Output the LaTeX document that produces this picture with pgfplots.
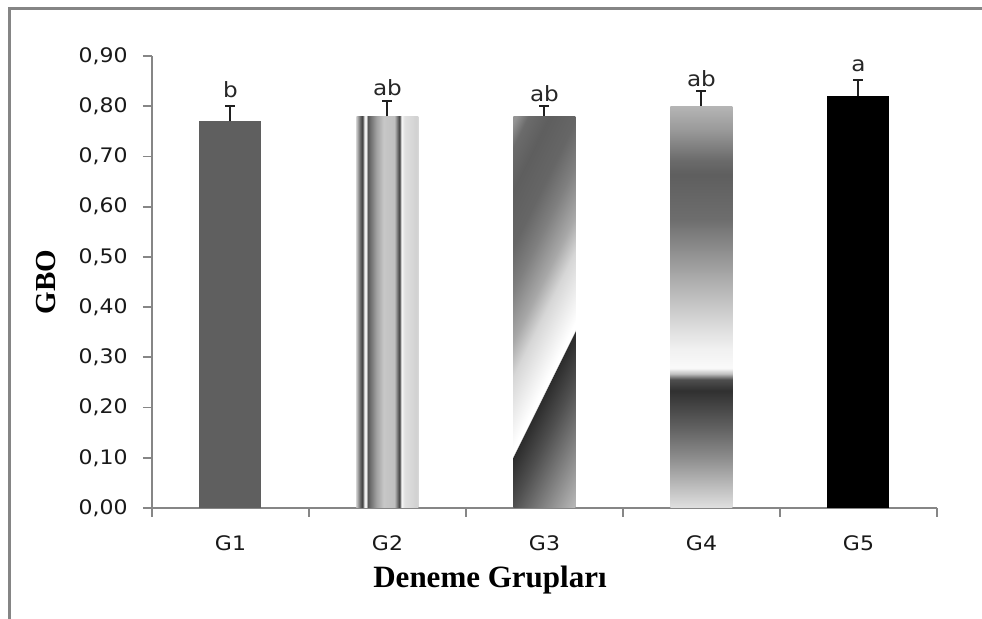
\documentclass[border=0pt]{standalone}
\usepackage{pgfplots}
\pgfplotsset{compat=1.18}
\usepackage{pgfplotstable}
\usepackage{fontspec}
\setmainfont{DejaVu Sans}[FakeStretch=1.1]
\newfontfamily\labfont{Liberation Serif}
\definecolor{axgray}{HTML}{868686}
\definecolor{framegray}{HTML}{858585}
\definecolor{gone}{HTML}{5F5F5F}
\definecolor{errc}{HTML}{202020}

\pgfdeclarehorizontalshading{gtwo}{100bp}{%
 color(0bp)=(black!22); color(25bp)=(black!22); color(28.2bp)=(black!62);
 color(29.8bp)=(black!75); color(31.5bp)=(black!6); color(33.1bp)=(black!6);
 color(33.9bp)=(black!67); color(36.3bp)=(black!56); color(41.1bp)=(black!37);
 color(46.8bp)=(black!22); color(55.6bp)=(black!25); color(58.1bp)=(black!56);
 color(59.7bp)=(black!75); color(61.3bp)=(black!3); color(63.7bp)=(black!12);
 color(73.4bp)=(black!18); color(75bp)=(black!15); color(100bp)=(black!15)}

\pgfdeclareverticalshading{gthree}{100bp}{%
 color(0bp)=(black!29); color(17bp)=(black!29); color(33bp)=(black!69);
 color(39.35bp)=(black!83); color(39.55bp)=(black!0); color(40.5bp)=(black!0);
 color(49.8bp)=(black!16); color(54.4bp)=(black!34); color(61bp)=(black!50);
 color(66.8bp)=(black!60); color(74bp)=(black!63); color(79.7bp)=(black!58);
 color(82.9bp)=(black!42); color(100bp)=(black!42)}

\pgfdeclareverticalshading{gfour}{100bp}{%
 color(0bp)=(black!12); color(25bp)=(black!12); color(31.5bp)=(black!46);
 color(35bp)=(black!62); color(39.6bp)=(black!81); color(41bp)=(black!69);
 color(41.7bp)=(black!25); color(42.4bp)=(black!2); color(45bp)=(black!6);
 color(53bp)=(black!31); color(60.9bp)=(black!57); color(66.5bp)=(black!63);
 color(68.3bp)=(black!58); color(72bp)=(black!40); color(75bp)=(black!29);
 color(100bp)=(black!29)}

\pgfplotstableread{
x ypos lab
1 0.818 b
2 0.822 ab
3 0.809 ab
4 0.839 ab
5 0.870 a
}\lettertable

\begin{document}
\begin{tikzpicture}
\useasboundingbox (0,0) rectangle (491pt,309.5pt);
\draw[framegray, line width=1.25pt] (4.75pt,0) -- (4.75pt,305.15pt) -- (491pt,305.15pt);
\begin{axis}[
  at={(76pt,55.5pt)}, anchor=south west,
  scale only axis, width=392.5pt, height=226pt,
  xmin=0.5, xmax=5.5, ymin=0, ymax=0.9,
  axis x line*=bottom, axis y line*=left,
  axis line style={draw=axgray, line width=0.9pt},
  tick style={draw=axgray, line width=0.9pt},
  tick align=outside, major tick length=4.5pt,
  xtick={0.5,1.5,2.5,3.5,4.5,5.5},
  x tick label as interval,
  xticklabels={G1,G2,G3,G4,G5},
  ytick={0,0.1,0.2,0.3,0.4,0.5,0.6,0.7,0.8,0.9},
  /pgf/number format/.cd, fixed, fixed zerofill, precision=2, use comma, assume math mode=true,
  /pgfplots/.cd,
  tick label style={font=\fontsize{10}{12}\selectfont, text=black!90},
  yticklabel style={anchor=east, inner sep=0pt, xshift=-7.5pt},
  xticklabel style={anchor=base, inner sep=0pt, yshift=-17pt},
  xlabel={Deneme Grupları},
  xlabel style={at={(axis description cs:0.4306,0)}, anchor=base, yshift=-40pt,
    font=\labfont\bfseries\fontsize{15.5}{18}\selectfont},
  ylabel={GBO},
  ylabel style={at={(axis description cs:-0.135,0.5)}, anchor=center,
    font=\labfont\bfseries\fontsize{14.5}{17}\selectfont},
  error bars/error bar style={errc, line width=1pt},
  error bars/error mark options={rotate=90, errc, line width=1pt, mark size=2.5pt},
]
\addplot[ybar, bar width=31pt, bar shift=0pt, draw=none, fill=gone,
  error bars/.cd, y dir=plus, y explicit] coordinates {(1,0.77) +- (0,0.03)};
\addplot[ybar, bar width=31pt, bar shift=0pt, draw=none, shading=gtwo,
  error bars/.cd, y dir=plus, y explicit] coordinates {(2,0.78) +- (0,0.03)};
\addplot[ybar, bar width=31pt, bar shift=0pt, draw=none, shading=gthree, shading angle=63.7,
  error bars/.cd, y dir=plus, y explicit] coordinates {(3,0.78) +- (0,0.02)};
\addplot[ybar, bar width=31pt, bar shift=0pt, draw=none, shading=gfour,
  error bars/.cd, y dir=plus, y explicit] coordinates {(4,0.80) +- (0,0.03)};
\addplot[ybar, bar width=31pt, bar shift=0pt, draw=none, fill=black,
  error bars/.cd, y dir=plus, y explicit] coordinates {(5,0.82) +- (0,0.033)};
\addplot[draw=none, nodes near coords, point meta=explicit symbolic,
  every node near coord/.style={anchor=base, inner sep=0pt, text=black!85,
    font=\fontsize{10.5}{12}\selectfont}]
  table[x=x, y=ypos, meta=lab] {\lettertable};
\end{axis}
\end{tikzpicture}
\end{document}
